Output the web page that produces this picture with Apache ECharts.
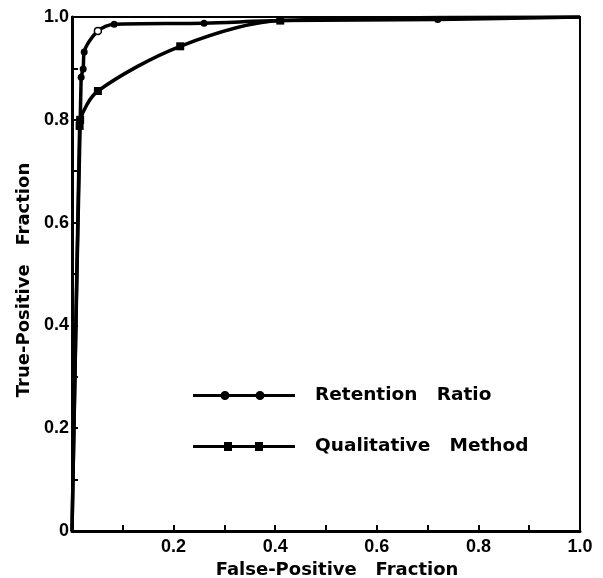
<!DOCTYPE html>
<html><head><meta charset="utf-8">
<script src="https://cdn.jsdelivr.net/npm/echarts@6/dist/echarts.min.js"></script>
<style>html,body{margin:0;padding:0;background:#fff}#c{width:603px;height:578px}</style>
</head><body><div id="c"></div>
<script>
// Data
const retentionX = [0, 0.018, 0.022, 0.024, 0.051, 0.083, 0.26, 0.41, 0.72, 1.0];
const retentionY = [0, 0.883, 0.899, 0.932, 0.973, 0.986, 0.988, 0.993, 0.995, 1.0];
const retentionOpen = [false, false, false, false, true, false, false, false, false, false];
const qualX = [0, 0.015, 0.016, 0.051, 0.213, 0.41, 1.0];
const qualY = [0, 0.788, 0.80, 0.856, 0.943, 0.993, 1.0];
const xTickLabels = {'0.2':'0.2','0.4':'0.4','0.6':'0.6','0.8':'0.8','1.0':'1.0'};
const yTickLabels = {'0':'0','0.2':'0.2','0.4':'0.4','0.6':'0.6','0.8':'0.8','1.0':'1.0'};
const seriesNames = ['Retention   Ratio', 'Qualitative   Method'];
const xTitle = 'False-Positive   Fraction';
const yTitle = 'True-Positive   Fraction';

const FONT = 'Liberation Sans';
const TFONT = 'DejaVu Sans';
function build(xs, ys, open) {
  const last = xs.length - 1;
  return xs.map((x, i) => {
    const d = { value: [x, ys[i]] };
    if (i === 0 || i === last) d.symbol = 'none';
    if (open && open[i]) d.itemStyle = { color: '#fff', borderColor: '#000', borderWidth: 1.5 };
    return d;
  });
}
const circleIcon = 'path://M0 3.5H28V6.5H0Z M36 3.5H63V6.5H36Z M71 3.5H102V6.5H71Z' +
  ' M27.5 5A4.5 4.5 0 1 1 36.5 5A4.5 4.5 0 1 1 27.5 5Z M62.5 5A4.5 4.5 0 1 1 71.5 5A4.5 4.5 0 1 1 62.5 5Z';
const squareIcon = 'path://M0 3.5H31V6.5H0Z M39 3.5H62V6.5H39Z M70 3.5H102V6.5H70Z' +
  ' M31 0.5H39V9.5H31Z M62 0.5H70V9.5H62Z';

const chart = echarts.init(document.getElementById('c'));
chart.setOption({
  animation: false,
  backgroundColor: '#fff',
  grid: { left: 72, right: 23, top: 17, bottom: 47, outerBoundsMode: 'none', containLabel: false,
          show: true, borderColor: '#000', borderWidth: 2 },
  legend: {
    orient: 'vertical', left: 188, top: 380, itemWidth: 102, itemHeight: 9, itemGap: 30,
    textStyle: { fontFamily: TFONT, fontWeight: 'bold', fontSize: 18.5, lineHeight: 21, color: '#000', padding: [0,0,0,15] },
    itemStyle: { borderWidth: 0 },
    data: [
      { name: seriesNames[0], icon: circleIcon },
      { name: seriesNames[1], icon: squareIcon }
    ]
  },
  xAxis: {
    type: 'value', min: 0, max: 1, interval: 0.1,
    name: xTitle, nameLocation: 'middle', nameGap: 25,
    nameTextStyle: { fontFamily: TFONT, fontWeight: 'bold', fontSize: 18, color: '#000', padding: [0,0,0,22] },
    axisLine: { lineStyle: { color: '#000', width: 3 } },
    axisTick: { inside: true, length: 6, lineStyle: { color: '#000', width: 2 } },
    axisLabel: { fontFamily: FONT, fontWeight: 'bold', fontSize: 18, color: '#000', margin: 7,
      formatter: v => xTickLabels[v.toFixed(1)] || '' },
    splitLine: { show: false }
  },
  yAxis: {
    type: 'value', min: 0, max: 1, interval: 0.1,
    name: yTitle, nameLocation: 'middle', nameGap: 38, nameRotate: 90,
    nameTextStyle: { fontFamily: TFONT, fontWeight: 'bold', fontSize: 18, color: '#000', padding: [0,12,0,0] },
    axisLine: { lineStyle: { color: '#000', width: 3 } },
    axisTick: { inside: true, length: 6, lineStyle: { color: '#000', width: 2 } },
    axisLabel: { fontFamily: FONT, fontWeight: 'bold', fontSize: 18, color: '#000', margin: 3,
      formatter: v => yTickLabels[v === 0 ? '0' : v.toFixed(1)] || '' },
    splitLine: { show: false }
  },
  series: [
    { name: seriesNames[0], type: 'line', smooth: 0.3, symbol: 'circle', symbolSize: 7,
      itemStyle: { color: '#000' }, lineStyle: { color: '#000', width: 3.5 },
      data: build(retentionX, retentionY, retentionOpen) },
    { name: seriesNames[1], type: 'line', smooth: 0.3, symbol: 'rect', symbolSize: 8,
      itemStyle: { color: '#000' }, lineStyle: { color: '#000', width: 3.5 },
      data: build(qualX, qualY, null) }
  ]
});
</script></body></html>
